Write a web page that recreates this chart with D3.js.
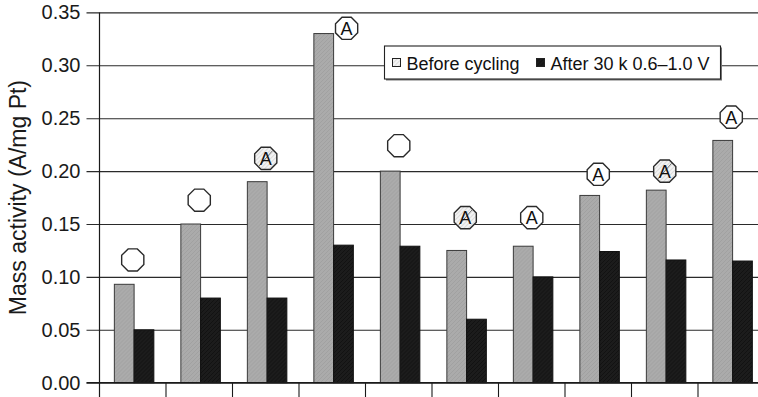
<!DOCTYPE html>
<html>
<head>
<meta charset="utf-8">
<script src="https://cdn.jsdelivr.net/npm/d3@7"></script>
<style>
  html, body { margin: 0; padding: 0; background: #fff; }
  svg { display: block; font-family: "Liberation Sans", Arial, Helvetica, sans-serif; }
</style>
</head>
<body>
<svg id="chart" width="758" height="397"></svg>
<script>
// Samples (unlabelled on the category axis)
const categories = ["S1", "S2", "S3", "S4", "S5", "S6", "S7", "S8", "S9", "S10"];
// Mass activity, A/mg Pt
const beforeCycling = [0.093, 0.150, 0.190, 0.330, 0.200, 0.125, 0.129, 0.177, 0.182, 0.229];
const afterCycling  = [0.050, 0.080, 0.080, 0.130, 0.129, 0.060, 0.100, 0.124, 0.116, 0.115];
// Symbol shown above each sample and the activity level it sits at
const markerType  = ["open", "open", "hatchA", "A", "open", "hatchA", "A", "A", "hatchA", "A"];
const markerLevel = [0.116, 0.1725, 0.212, 0.335, 0.224, 0.156, 0.156, 0.197, 0.200, 0.251];
const yTicks = [0.00, 0.05, 0.10, 0.15, 0.20, 0.25, 0.30, 0.35];
const seriesNames = ["Before cycling", "After 30 k 0.6\u20131.0 V"];

const svg = d3.select("#chart");
const W = 758, H = 397;
const plotLeft = 99.5, plotBottom = 382.7, plotTop = 12.4;

const y = d3.scaleLinear().domain([0, 0.35]).range([plotBottom, plotTop]);
const x = d3.scaleBand().domain(categories).range([plotLeft, plotLeft + 66.5 * categories.length]);
const inner = d3.scaleBand().domain(["before", "after"]).range([0, x.bandwidth()])
  .paddingInner(0).paddingOuter(0.684).align(0.55);

const defs = svg.append("defs");
// grainy fills for the bars
function grain(id, base, dark, light) {
  const p = defs.append("pattern").attr("id", id).attr("patternUnits", "userSpaceOnUse")
    .attr("width", 4).attr("height", 4);
  p.append("rect").attr("width", 4).attr("height", 4).attr("fill", base);
  p.append("path").attr("d", "M0,4 L4,0").attr("stroke", dark).attr("stroke-width", 0.6);
  p.append("path").attr("d", "M-1,1 L1,-1 M3,5 L5,3").attr("stroke", light).attr("stroke-width", 0.5);
}
grain("gGray", "#ababab", "#9a9a9a", "#bdbdbd");
grain("gBlack", "#1c1c1c", "#0c0c0c", "#383838");
// light hatching used inside some symbols
const hp = defs.append("pattern").attr("id", "hatch").attr("patternUnits", "userSpaceOnUse")
  .attr("width", 3).attr("height", 3).attr("patternTransform", "rotate(45)");
hp.append("rect").attr("width", 3).attr("height", 3).attr("fill", "#f3f3f3");
hp.append("line").attr("x1", 0).attr("y1", 0).attr("x2", 0).attr("y2", 3)
  .attr("stroke", "#b8b8b8").attr("stroke-width", 0.8);

// horizontal grid lines with left tick stubs
const yAxis = d3.axisLeft(y).tickValues(yTicks).tickFormat(d3.format(".2f"))
  .tickSize(-(W - plotLeft)).tickPadding(6);
const gy = svg.append("g").attr("transform", `translate(${plotLeft},0)`).call(yAxis);
gy.select(".domain").remove();
gy.selectAll(".tick line").attr("x1", -13).attr("stroke", "#2a2a2a").attr("stroke-width", 1.1);
gy.selectAll(".tick text").attr("x", -19).attr("font-size", 20).attr("fill", "#1a1a1a")
  .style("font-family", "'Liberation Sans', Arial, sans-serif");

// vertical axis line
svg.append("line").attr("x1", plotLeft).attr("x2", plotLeft).attr("y1", y(0.35)).attr("y2", H)
  .attr("stroke", "#1a1a1a").attr("stroke-width", 1.2);

// category separators below the baseline
svg.append("g").selectAll("line").data(categories.slice(1)).join("line")
  .attr("x1", d => x(d)).attr("x2", d => x(d))
  .attr("y1", plotBottom).attr("y2", H)
  .attr("stroke", "#1a1a1a").attr("stroke-width", 1.1);

// bars
const groups = svg.append("g").selectAll("g").data(categories).join("g")
  .attr("transform", d => `translate(${x(d)},0)`);
groups.append("rect")
  .attr("x", inner("before")).attr("width", inner.bandwidth())
  .attr("y", (d, i) => y(beforeCycling[i]))
  .attr("height", (d, i) => y(0) - y(beforeCycling[i]))
  .attr("fill", "url(#gGray)").attr("stroke", "#3a3a3a").attr("stroke-width", 1);
groups.append("rect")
  .attr("x", inner("after")).attr("width", inner.bandwidth())
  .attr("y", (d, i) => y(afterCycling[i]))
  .attr("height", (d, i) => y(0) - y(afterCycling[i]))
  .attr("fill", "url(#gBlack)").attr("stroke", "#111").attr("stroke-width", 1);

// baseline on top of bars
svg.append("line").attr("x1", plotLeft - 13).attr("x2", W).attr("y1", y(0)).attr("y2", y(0))
  .attr("stroke", "#1a1a1a").attr("stroke-width", 1.2);

// octagon symbols
const R = 12;
const octo = d3.range(8).map(k => {
  const a = Math.PI / 8 + k * Math.PI / 4;
  return [R * Math.cos(a), R * Math.sin(a)];
});
const octPath = "M" + octo.map(p => p.join(",")).join("L") + "Z";

const marks = svg.append("g").selectAll("g").data(categories).join("g")
  .attr("transform", (d, i) => {
    let cx = x(d) + x.bandwidth() / 2;
    // a symbol that would overlap its bar is moved beside it
    if (y(markerLevel[i]) + R > y(beforeCycling[i])) cx = x(d) + inner("after") + R + 1;
    return `translate(${cx},${y(markerLevel[i])})`;
  });
marks.append("path").attr("d", octPath)
  .attr("fill", (d, i) => markerType[i] === "hatchA" ? "url(#hatch)" : "#fff")
  .attr("stroke", "#2a2a2a").attr("stroke-width", 1.4);
marks.filter((d, i) => markerType[i] === "hatchA").append("line")
  .attr("x1", -7).attr("y1", 8).attr("x2", 7).attr("y2", -8)
  .attr("stroke", "#666").attr("stroke-width", 0.9);
marks.filter((d, i) => markerType[i] !== "open").append("text")
  .attr("text-anchor", "middle").attr("y", 6.5).attr("font-size", 18)
  .attr("fill", "#111").text("A");

// legend
const lg = svg.append("g").attr("transform", "translate(384.5,46)");
lg.append("rect").attr("x", 1.5).attr("y", 1.5).attr("width", 336).attr("height", 33)
  .attr("fill", "#777");
lg.append("rect").attr("width", 336).attr("height", 33)
  .attr("fill", "#fff").attr("stroke", "#222").attr("stroke-width", 1.1);
const items = lg.selectAll("g").data(seriesNames).join("g")
  .attr("transform", (d, i) => `translate(${i === 0 ? 8 : 152},0)`);
items.append("rect").attr("x", 0).attr("y", 12.5).attr("width", 8).attr("height", 8)
  .attr("fill", (d, i) => i === 0 ? "url(#hatch)" : "url(#gBlack)")
  .attr("stroke", "#222").attr("stroke-width", 1);
items.append("text").attr("x", 14).attr("y", 23.5).attr("font-size", 18)
  .attr("fill", "#111").text(d => d);

// axis title
svg.append("text")
  .attr("transform", `translate(26,${(y(0) + y(0.35)) / 2}) rotate(-90)`)
  .attr("text-anchor", "middle").attr("font-size", 23).attr("fill", "#1a1a1a")
  .text("Mass activity (A/mg Pt)");
</script>
</body>
</html>
